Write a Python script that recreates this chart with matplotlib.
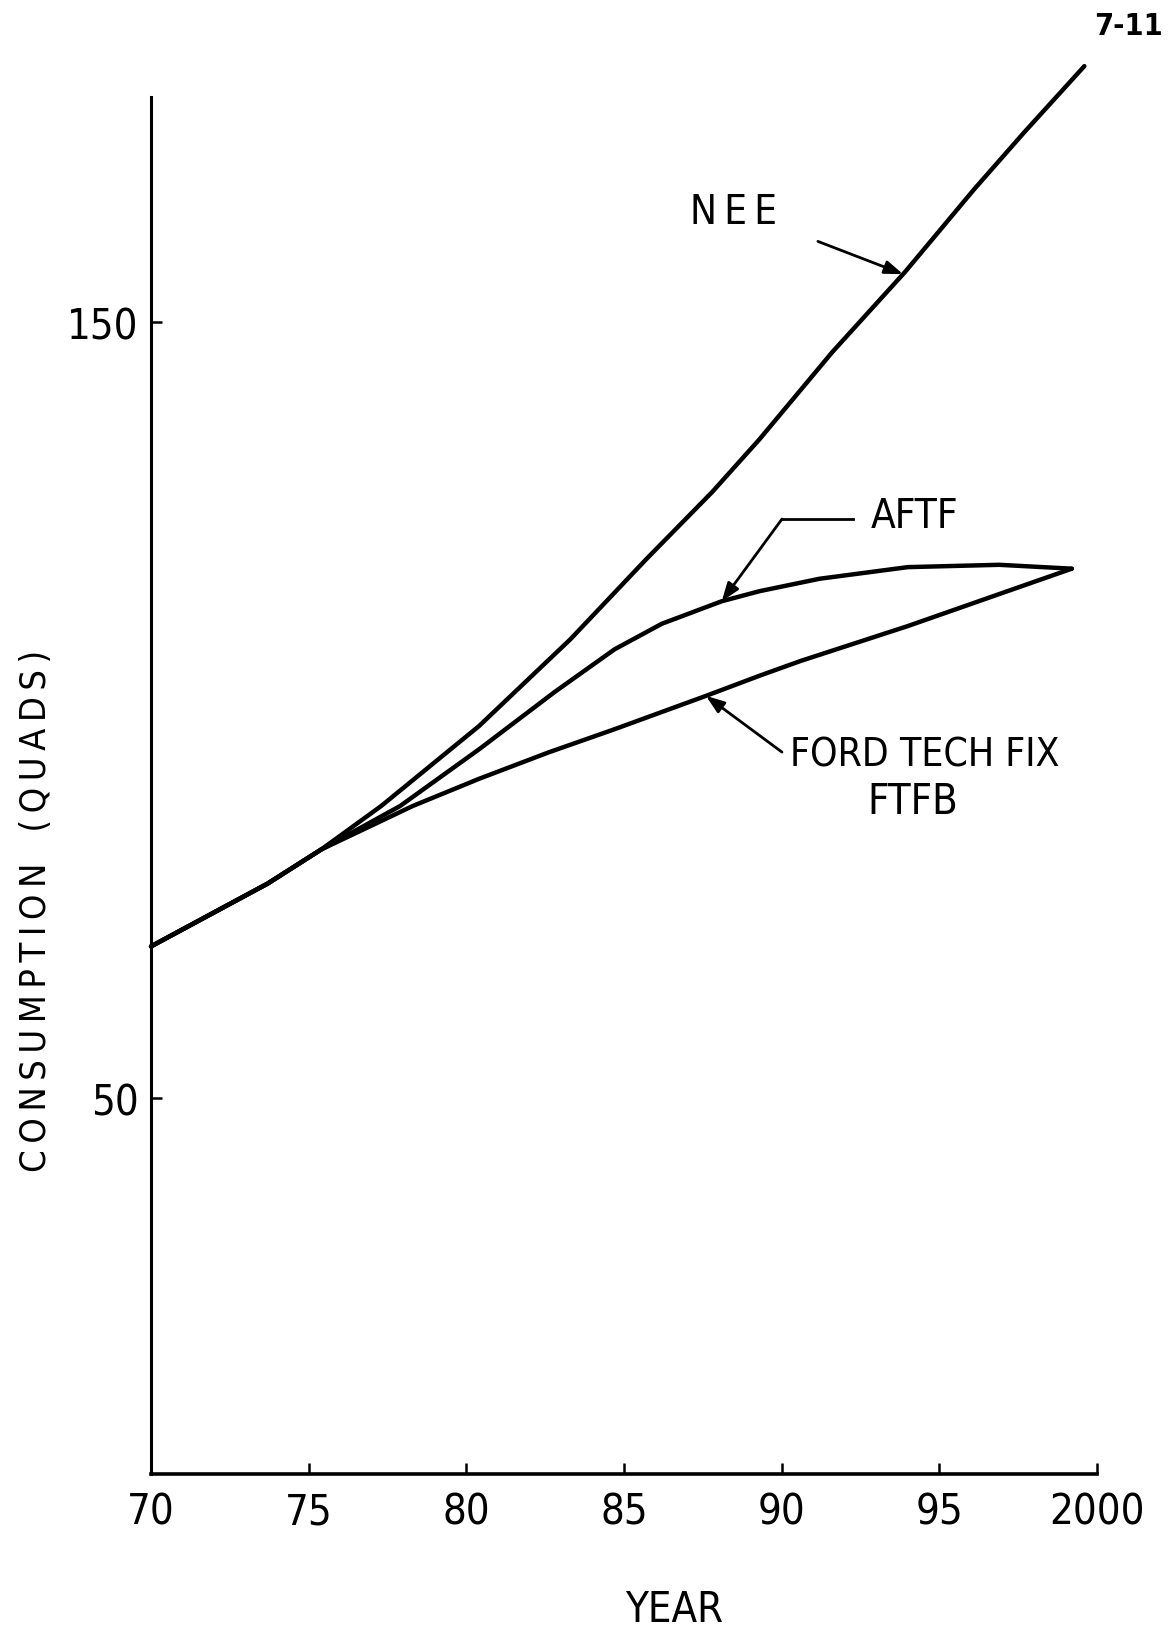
import numpy as np
import matplotlib
matplotlib.use("Agg")
import matplotlib.pyplot as plt
from matplotlib import font_manager

# values (year as 70..100, consumption in quads)
nee_years = [70, 73.7, 75.4, 77.3, 80.4, 83.3, 85.7, 87.8, 89.3, 91.6, 93.9, 96.1, 97.7, 99.6]
nee_quads = [69.5, 77.6, 82.0, 87.6, 97.9, 109.1, 119.4, 128.1, 134.9, 146.1, 156.4, 167.1, 174.5, 183.0]

aftf_years = [70, 73.7, 75.4, 77.9, 80.4, 82.8, 84.7, 86.2, 88.1, 89.3, 91.2, 94.0, 96.9, 99.2]
aftf_quads = [69.5, 77.6, 82.0, 87.6, 94.9, 102.3, 107.8, 111.1, 114.0, 115.3, 116.9, 118.4, 118.7, 118.2]

ftfb_years = [70, 73.7, 75.4, 78.3, 80.4, 82.6, 84.7, 87.6, 89.3, 90.6, 94.0, 99.2]
ftfb_quads = [69.5, 77.6, 82.0, 87.6, 91.1, 94.5, 97.5, 101.8, 104.4, 106.3, 110.8, 118.2]

x_ticks = [70, 75, 80, 85, 90, 95, 100]
x_tick_labels = ["70", "75", "80", "85", "90", "95", "2000"]
y_ticks = [50, 150]

# the scan uses a narrow sans; take a condensed face if one is installed
condensed = ('condensed', 'semi-condensed', 'extra-condensed', 'ultra-condensed')
prefer = ['Liberation Sans Narrow', 'Noto Sans']
found = None
for f in font_manager.fontManager.ttflist:
    narrow = (str(f.stretch) in condensed or 'Condensed' in f.name or 'Narrow' in f.name)
    if narrow and f.style == 'normal' and f.weight in (400, 'normal', 'regular'):
        if found is None or any(f.name.startswith(p) for p in prefer):
            found = f
if found is not None:
    plt.rcParams['font.family'] = [found.name, 'DejaVu Sans']
    plt.rcParams['font.stretch'] = found.stretch
else:
    plt.rcParams['font.family'] = ['Liberation Sans', 'DejaVu Sans']

fig = plt.figure(figsize=(11.68, 16.31), dpi=100)
ax = fig.add_axes([0.1293, 0.0958, 0.8099, 0.8678])

lw = 3.2
for xs, ys in [(nee_years, nee_quads), (aftf_years, aftf_quads), (ftfb_years, ftfb_quads)]:
    ax.plot(xs, ys, color='black', lw=lw, solid_capstyle='round',
            solid_joinstyle='round', clip_on=False)

ax.set_xlim(70, 100)
ax.set_ylim(1.5, 184)

for side in ['top', 'right']:
    ax.spines[side].set_visible(False)
ax.spines['left'].set_linewidth(2.2)
ax.spines['bottom'].set_linewidth(2.6)
ax.spines['left'].set_bounds(1.5, 179)

ax.set_xticks(x_ticks)
ax.set_xticklabels(x_tick_labels)
ax.set_yticks(y_ticks)
ax.tick_params(direction='in', length=8, width=1.8, labelsize=30, pad=12)
ax.tick_params(axis='y', pad=9)

arrow = dict(arrowstyle='-|>,head_length=0.55,head_width=0.2', color='black',
             lw=2.0, mutation_scale=20, shrinkA=0, shrinkB=0)

# NEE label
ax.text(88.46, 164.2, "N\u2009E\u2009E", fontsize=29, ha='center', va='center')
ax.annotate('', xy=(93.85, np.interp(93.85, nee_years, nee_quads)),
            xytext=(91.15, 160.4), arrowprops=arrow)

# AFTF label with bent leader
ax.text(94.2, 125.0, "AFTF", fontsize=29, ha='center', va='center')
ax.plot([92.26, 90.01], [124.6, 124.6], color='black', lw=2.0)
ax.annotate('', xy=(aftf_years[8], aftf_quads[8]), xytext=(90.01, 124.6), arrowprops=arrow)

# FTFB label
ax.text(94.55, 94.2, "FORD TECH FIX", fontsize=28, ha='center', va='center')
ax.text(94.17, 88.2, "FTFB", fontsize=30, ha='center', va='center')
ax.annotate('', xy=(ftfb_years[7], ftfb_quads[7]), xytext=(90.01, 94.55), arrowprops=arrow)

sp = "\u2009"
ylabel = sp.join("CONSUMPTION") + "   " + sp.join("(QUADS)")
fig.text(0.031, 0.4414, ylabel, rotation=90, fontsize=26, ha='center', va='center')
fig.text(0.577, 0.013, "YEAR", fontsize=30, ha='center', va='center')
fig.text(0.966, 0.984, "7-11", fontsize=22, fontweight='bold', ha='center', va='center')

fig.savefig("out.png", dpi=100)
